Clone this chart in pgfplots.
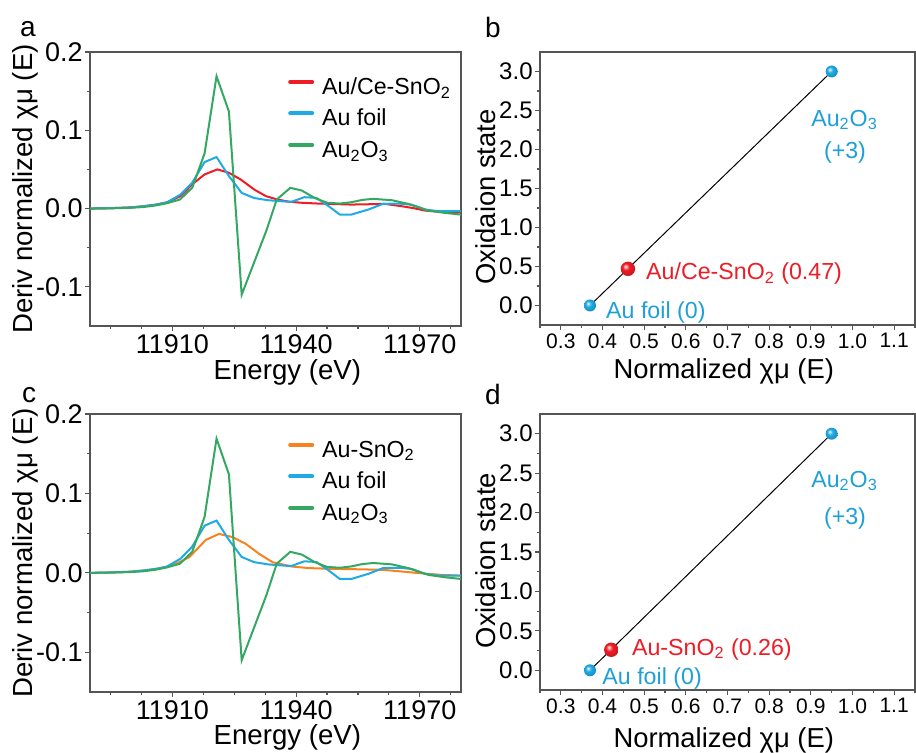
\documentclass[border=0pt]{standalone}
\usepackage{fontspec}
\setmainfont{Liberation Sans}
\usepackage{pgfplots}
\pgfplotsset{compat=1.18}
\definecolor{cred}{RGB}{238,28,37}
\definecolor{cblue}{RGB}{30,170,228}
\definecolor{cgreen}{RGB}{52,168,98}
\definecolor{corange}{RGB}{248,130,30}
\definecolor{tblue}{RGB}{30,160,215}
\definecolor{axgray}{RGB}{85,85,85}

\pgfdeclareradialshading{ballred}{\pgfpoint{-9bp}{9bp}}{color(0bp)=(white); color(4bp)=(cred!40!white); color(12bp)=(cred); color(24bp)=(cred!88!black); color(34bp)=(cred!72!black); color(50bp)=(cred!70!black)}
\pgfdeclareradialshading{ballblue}{\pgfpoint{-9bp}{9bp}}{color(0bp)=(white); color(4bp)=(cblue!40!white); color(12bp)=(cblue); color(24bp)=(cblue!88!black); color(34bp)=(cblue!72!black); color(50bp)=(cblue!70!black)}
\pgfdeclareplotmark{redball}{\pgfpathcircle{\pgfpointorigin}{\pgfplotmarksize}\pgfshadepath{ballred}{0}\pgfusepath{}}
\pgfdeclareplotmark{blueball}{\pgfpathcircle{\pgfpointorigin}{\pgfplotmarksize}\pgfshadepath{ballblue}{0}\pgfusepath{}}

\pgfplotstableread{
E v
11890 0
11895 0.0005
11900 0.0015
11903 0.003
11906 0.005
11908.7 0.008
11912 0.016
11914.8 0.031
11917.8 0.0436
11920.9 0.050
11923.7 0.0457
11926.6 0.037
11929.8 0.0244
11932.7 0.0158
11935.5 0.0115
11938 0.009
11941 0.0075
11945.3 0.0064
11949 0.0058
11953.4 0.0051
11957.5 0.0055
11961.5 0.006
11965.6 0.003
11968.5 0.0005
11971.3 -0.0026
11976.2 -0.0047
11980 -0.005
}\redtab

\pgfplotstableread{
E v
11890 0
11895 0.0005
11900 0.0015
11903 0.003
11906 0.005
11908.7 0.008
11912 0.018
11914.8 0.033
11917.8 0.0594
11920.7 0.0658
11923.7 0.0415
11926.8 0.020
11929.8 0.0135
11933.1 0.0107
11936.3 0.0094
11938.8 0.0085
11942 0.0145
11944.9 0.0137
11947.7 0.0038
11950.6 -0.0077
11953.4 -0.0077
11957.5 -0.0013
11961.1 0.006
11964.8 0.0064
11968 0.005
11971.3 -0.0013
11974.6 -0.0034
11980 -0.0034
}\bluetab

\pgfplotstableread{
E v
11890 0
11895 0.0003
11900 0.001
11903 0.002
11906 0.004
11908.8 0.007
11911.8 0.0115
11914.8 0.0265
11917.8 0.0705
11920.7 0.169
11923.7 0.124
11926.8 -0.110
11929.8 -0.069
11932.8 -0.028
11935.3 0.0115
11938.6 0.0265
11941.4 0.023
11944.5 0.0135
11947.5 0.0075
11950.6 0.0064
11953.4 0.0081
11956 0.011
11958.7 0.0124
11963.2 0.0107
11967.2 0.006
11972.1 -0.0026
11976.2 -0.0056
11980 -0.0077
}\greentab

\pgfplotstableread{
E v
11890 0
11895 0.0005
11900 0.0015
11903 0.003
11906 0.005
11909 0.008
11911.5 0.013
11914.1 0.0197
11918.1 0.0415
11921.3 0.049
11924.6 0.045
11927.8 0.0365
11931 0.024
11934.3 0.0134
11939.1 0.0079
11943 0.006
11948.8 0.005
11955 0.0045
11961 0.0038
11965 0.002
11969.1 0
11975 -0.0025
11980 -0.0035
}\orangetab

\pgfplotsset{
  base/.style={
    scale only axis, anchor=south west,
    scaled x ticks=false, scaled y ticks=false,
    axis line style={axgray, line width=0.6pt},
    every tick/.style={axgray, line width=0.6pt},
    major tick length=2.5pt, minor tick length=1.6pt,
    tick pos=left, tick align=outside,
    yticklabel style={inner sep=1pt},
    xticklabel style={inner sep=1.5pt},
  },
  spec/.style={base,
    width=185.5pt,
    xmin=11890, xmax=11980, ymin=-0.15, ymax=0.2,
    xtick={11910,11940,11970}, xticklabels={11910,11940,11970},
    minor xtick={11895,11902.5,11917.5,11925,11932.5,11947.5,11955,11962.5,11977.5},
    ytick={-0.1,0,0.1,0.2}, yticklabels={-0.1,0.0,0.1,0.2},
    minor ytick={-0.05,0.05,0.15},
    ticklabel style={font=\fontsize{13.5}{16}\selectfont},
    label style={font=\fontsize{13.8}{16}\selectfont},
    ylabel={Deriv normalized χμ (E)},
    ylabel style={at={(axis description cs:-0.175,0.5)}, anchor=center},
    xlabel={Energy (eV)},
    legend style={draw=none, fill=none, anchor=north west,
      font=\fontsize{11.6}{13}\selectfont, row sep=5.25pt, column sep=4pt,
      nodes={inner sep=0pt, text height=8.5pt, text depth=2pt}},
    legend cell align=left,
    legend image code/.code={\draw[##1, line width=2pt, line cap=round] (0pt,3pt) -- (11pt,3pt);},
    every axis plot/.append style={line width=1pt},
  },
  ox/.style={base,
    width=187.5pt,
    xmin=0.25, xmax=1.15, ymin=-0.25, ymax=3.25,
    xtick={0.3,0.4,0.5,0.6,0.7,0.8,0.9,1.0,1.1},
    xticklabels={0.3,0.4,0.5,0.6,0.7,0.8,0.9,1.0,1.1},
    minor xtick={0.25,0.35,0.45,0.55,0.65,0.75,0.85,0.95,1.05,1.15},
    ytick={0,0.5,1,1.5,2,2.5,3},
    yticklabels={0.0,0.5,1.0,1.5,2.0,2.5,3.0},
    minor ytick={0.25,0.75,1.25,1.75,2.25,2.75},
    xticklabel style={font=\fontsize{10.5}{12}\selectfont},
    yticklabel style={font=\fontsize{12}{14}\selectfont},
    label style={font=\fontsize{13.7}{16}\selectfont},
    ylabel={Oxidaion state},
    ylabel style={at={(axis description cs:-0.146,0.469)}, anchor=center},
    xlabel={Normalized χμ (E)},
  },
}

\begin{document}
\begin{tikzpicture}
\useasboundingbox (0,0) rectangle (458pt,376.5pt);

% panel a
\begin{axis}[spec, at={(45pt,213.5pt)}, height=137pt,
  xlabel style={at={(axis description cs:0.532,-0.121)}, anchor=north, inner sep=0pt},
  legend style={at={(axis description cs:0.517,0.923)}}]
\addplot[cred] table[x=E,y=v] {\redtab};
\addlegendentry{Au/Ce-SnO\textsubscript{2}}
\addplot[cblue] table[x=E,y=v] {\bluetab};
\addlegendentry{Au foil}
\addplot[cgreen] table[x=E,y=v] {\greentab};
\addlegendentry{Au\textsubscript{2}O\textsubscript{3}}
\end{axis}

% panel c
\begin{axis}[spec, at={(45pt,30.5pt)}, height=139pt,
  xlabel style={at={(axis description cs:0.532,-0.117)}, anchor=north, inner sep=0pt},
  legend style={at={(axis description cs:0.517,0.921)}}]
\addplot[corange] table[x=E,y=v] {\orangetab};
\addlegendentry{Au-SnO\textsubscript{2}}
\addplot[cblue] table[x=E,y=v] {\bluetab};
\addlegendentry{Au foil}
\addplot[cgreen] table[x=E,y=v] {\greentab};
\addlegendentry{Au\textsubscript{2}O\textsubscript{3}}
\end{axis}

% panel b
\begin{axis}[ox, at={(270pt,214pt)}, height=136.5pt,
  xlabel style={at={(axis description cs:0.49,-0.121)}, anchor=north, inner sep=0pt}]
\addplot[only marks, mark=blueball, mark size=3pt] coordinates {(0.37,0) (0.95,3)};
\addplot[black, line width=0.5pt] coordinates {(0.37,0) (0.95,3)};
\addplot[only marks, mark=redball, mark size=3.6pt] coordinates {(0.461,0.47)};
\node[tblue, anchor=base, font=\fontsize{11.6}{13}\selectfont] at (axis cs:0.981,2.30) {Au\textsubscript{2}O\textsubscript{3}};
\node[tblue, anchor=base, font=\fontsize{11.6}{13}\selectfont] at (axis cs:0.982,1.88) {(+3)};
\node[tblue, anchor=base west, inner sep=0pt, font=\fontsize{11.6}{13}\selectfont] at (axis cs:0.408,-0.162) {Au foil (0)};
\node[cred, anchor=base west, inner sep=0pt, font=\fontsize{11.6}{13}\selectfont] at (axis cs:0.504,0.33) {Au/Ce-SnO\textsubscript{2} (0.47)};
\end{axis}

% panel d
\begin{axis}[ox, at={(270pt,31.5pt)}, height=138pt,
  xlabel style={at={(axis description cs:0.49,-0.134)}, anchor=north, inner sep=0pt}]
\addplot[only marks, mark=blueball, mark size=3pt] coordinates {(0.37,0) (0.95,3)};
\addplot[black, line width=0.5pt] coordinates {(0.37,0) (0.95,3)};
\addplot[only marks, mark=redball, mark size=3.6pt] coordinates {(0.421,0.26)};
\node[tblue, anchor=base, font=\fontsize{11.6}{13}\selectfont] at (axis cs:0.981,2.32) {Au\textsubscript{2}O\textsubscript{3}};
\node[tblue, anchor=base, font=\fontsize{11.6}{13}\selectfont] at (axis cs:0.982,1.85) {(+3)};
\node[tblue, anchor=base west, inner sep=0pt, font=\fontsize{11.6}{13}\selectfont] at (axis cs:0.399,-0.177) {Au foil (0)};
\node[cred, anchor=base west, inner sep=0pt, font=\fontsize{11.6}{13}\selectfont] at (axis cs:0.470,0.19) {Au-SnO\textsubscript{2} (0.26)};
\end{axis}

\node[font=\fontsize{14}{16}\selectfont] at (14pt,362pt) {a};
\node[font=\fontsize{14}{16}\selectfont] at (246.5pt,362.5pt) {b};
\node[font=\fontsize{14}{16}\selectfont] at (14.5pt,179pt) {c};
\node[font=\fontsize{14}{16}\selectfont] at (246.5pt,179pt) {d};
\end{tikzpicture}
\end{document}
